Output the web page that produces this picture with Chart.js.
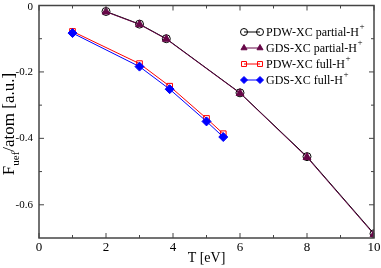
<!DOCTYPE html>
<html>
<head>
<meta charset="utf-8">
<script src="https://cdn.jsdelivr.net/npm/chart.js@4"></script>
<style>
  html, body { margin: 0; padding: 0; background: #fff; }
  #wrap { width: 381px; height: 268px; }
</style>
</head>
<body>
<div id="wrap"><canvas id="myChart" width="381" height="268"></canvas></div>
<script>
const ctx = document.getElementById("myChart");
const FONT = "'Liberation Serif', 'Times New Roman', serif";

// temperatures
const tPartial = [2, 3, 3.8, 6, 8, 10];
const tFull = [1, 3, 3.9, 5, 5.5];
// free energy per atom
const pdwPartial = [-0.018, -0.056, -0.100, -0.263, -0.455, -0.687];
const gdsPartial = [-0.019, -0.057, -0.101, -0.264, -0.457, -0.689];
const pdwFull = [-0.078, -0.175, -0.243, -0.340, -0.386];
const gdsFull = [-0.083, -0.184, -0.252, -0.349, -0.396];

const xMajor = [0, 2, 4, 6, 8, 10];
const xMinor = [1, 3, 5, 7, 9];
const yMajor = [0, -0.2, -0.4, -0.6];
const yMinor = [-0.1, -0.3, -0.5];
const yLabels = ["0", "-0.2", "-0.4", "-0.6"];

const legendNames = ["PDW-XC partial-H", "GDS-XC partial-H", "PDW-XC full-H", "GDS-XC full-H"];

const pts = (xs, ys) => xs.map((x, i) => ({ x: x, y: ys[i] }));

const sets = [
  { label: legendNames[0], data: pts(tPartial, pdwPartial), borderColor: "#000", backgroundColor: "rgba(0,0,0,0)",
    pointStyle: "circle", pointRadius: 4, pointBorderColor: "#000", pointBackgroundColor: "rgba(0,0,0,0)", order: 4 },
  { label: legendNames[1], data: pts(tPartial, gdsPartial), borderColor: "#670748", backgroundColor: "#670748",
    pointStyle: "triangle", pointRadius: 4.5, pointBorderColor: "#670748", pointBackgroundColor: "#670748", order: 3 },
  { label: legendNames[2], data: pts(tFull, pdwFull), borderColor: "#ff0000", backgroundColor: "rgba(0,0,0,0)",
    pointStyle: "rect", pointRadius: 4, pointBorderColor: "#ff0000", pointBackgroundColor: "rgba(0,0,0,0)", order: 2 },
  { label: legendNames[3], data: pts(tFull, gdsFull), borderColor: "#0000ff", backgroundColor: "#0000ff",
    pointStyle: "rectRot", pointRadius: 4.5, pointBorderColor: "#0000ff", pointBackgroundColor: "#0000ff", order: 1 },
];

// frame, inward ticks, labels, axis titles and legend
const decor = {
  id: "decor",
  afterDraw(chart) {
    const c = chart.ctx;
    const a = chart.chartArea;
    const xs = chart.scales.x, ys = chart.scales.y;
    c.save();
    c.strokeStyle = "#444";
    c.lineWidth = 1.5;
    c.strokeRect(a.left, a.top, a.right - a.left, a.bottom - a.top);
    c.lineWidth = 1;
    const tick = (x1, y1, x2, y2) => { c.beginPath(); c.moveTo(x1, y1); c.lineTo(x2, y2); c.stroke(); };
    xMajor.forEach(v => { const p = xs.getPixelForValue(v); tick(p, a.bottom, p, a.bottom - 5); tick(p, a.top, p, a.top + 5); });
    xMinor.forEach(v => { const p = xs.getPixelForValue(v); tick(p, a.bottom, p, a.bottom - 3); tick(p, a.top, p, a.top + 3); });
    yMajor.forEach(v => { const p = ys.getPixelForValue(v); tick(a.left, p, a.left + 5, p); tick(a.right, p, a.right - 5, p); });
    yMinor.forEach(v => { const p = ys.getPixelForValue(v); tick(a.left, p, a.left + 3, p); tick(a.right, p, a.right - 3, p); });

    c.fillStyle = "#000";
    c.font = "13px " + FONT;
    c.textAlign = "center";
    c.textBaseline = "top";
    xMajor.forEach(v => c.fillText(String(v), xs.getPixelForValue(v), a.bottom + 3));
    c.font = "11px " + FONT;
    c.textAlign = "right";
    c.textBaseline = "middle";
    yMajor.forEach((v, i) => c.fillText(yLabels[i], a.left - 6, ys.getPixelForValue(v) + (i === 0 ? 2 : 0)));

    // x title
    c.font = "14px " + FONT;
    c.textAlign = "center";
    c.textBaseline = "middle";
    c.fillText("T [eV]", (a.left + a.right) / 2, 258);

    // y title with subscript
    c.save();
    c.translate(10, 124);
    c.rotate(-Math.PI / 2);
    c.textAlign = "left";
    const big = "17px " + FONT, small = "11px " + FONT;
    c.font = big; const wF = c.measureText("F").width;
    c.font = small; const wS = c.measureText("uef").width;
    c.font = big; const wR = c.measureText("/atom [a.u.]").width;
    let x0 = -(wF + wS + wR) / 2;
    c.font = big; c.fillText("F", x0, 0); x0 += wF;
    c.font = small; c.fillText("uef", x0, 6); x0 += wS;
    c.font = big; c.fillText("/atom [a.u.]", x0, 0);
    c.restore();

    // legend
    const rows = [32, 48, 64, 80];
    sets.forEach((s, i) => {
      const y = rows[i];
      c.strokeStyle = s.borderColor;
      c.lineWidth = 1;
      tick(244, y, 260, y);
      [244, 260].forEach(px => {
        c.fillStyle = s.pointBackgroundColor;
        c.strokeStyle = s.pointBorderColor;
        Chart.helpers.drawPoint(c, { pointStyle: s.pointStyle, radius: 3.5, borderWidth: 1 }, px, y);
      });
      c.fillStyle = "#000";
      c.font = "12px " + FONT;
      c.textAlign = "left";
      c.textBaseline = "middle";
      c.fillText(s.label, 266, y + 1);
      const w = c.measureText(s.label).width;
      c.font = "9px " + FONT;
      c.fillText("+", 266 + w + 0.5, y - 5);
    });
    c.restore();
  }
};

new Chart(ctx, {
  type: "scatter",
  data: { datasets: sets.map(s => Object.assign({ showLine: true, borderWidth: 1, pointBorderWidth: 1 }, s)) },
  options: {
    responsive: false,
    animation: false,
    layout: { padding: { top: 4, right: 7, left: 0, bottom: 0 } },
    plugins: { legend: { display: false }, tooltip: { enabled: false } },
    scales: {
      x: {
        type: "linear", min: 0, max: 10,
        grid: { display: false }, border: { display: false },
        ticks: { display: false },
        afterFit: s => { s.height = 30; }
      },
      y: {
        type: "linear", min: -0.7, max: 0,
        grid: { display: false }, border: { display: false },
        ticks: { display: false },
        afterFit: s => { s.width = 39; }
      }
    }
  },
  plugins: [decor]
});
</script>
</body>
</html>
